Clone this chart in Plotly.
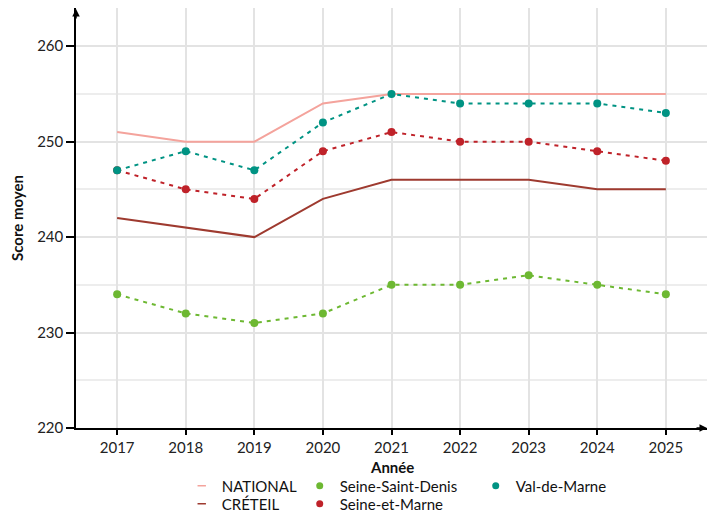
import plotly.graph_objects as go

annees = [2017, 2018, 2019, 2020, 2021, 2022, 2023, 2024, 2025]
national = [251, 250, 250, 254, 255, 255, 255, 255, 255]
creteil = [242, 241, 240, 244, 246, 246, 246, 245, 245]
seine_saint_denis = [234, 232, 231, 232, 235, 235, 236, 235, 234]
seine_et_marne = [247, 245, 244, 249, 251, 250, 250, 249, 248]
val_de_marne = [247, 249, 247, 252, 255, 254, 254, 254, 253]

col_nat = "#F4A39C"
col_cre = "#9E3A2F"
col_ssd = "#6DB832"
col_sem = "#BF2229"
col_vdm = "#009383"

FONT = "Lato"

fig = go.Figure()

# lignes académiques (sans marqueurs)
fig.add_trace(go.Scatter(x=annees, y=national, mode="lines", line=dict(color=col_nat, width=2),
                         showlegend=False))
fig.add_trace(go.Scatter(x=annees, y=creteil, mode="lines", line=dict(color=col_cre, width=2),
                         showlegend=False))

# départements, pointillés + points
for vals, col in [(seine_saint_denis, col_ssd), (seine_et_marne, col_sem), (val_de_marne, col_vdm)]:
    fig.add_trace(go.Scatter(x=annees, y=vals, mode="lines+markers",
                             line=dict(color=col, width=2, dash="4px,5px"),
                             marker=dict(color=col, size=8), showlegend=False))

# entrées de légende
def leg_line(nom, col, leg, w):
    fig.add_trace(go.Scatter(x=[None], y=[None], mode="markers", name=nom, legend=leg,
                             legendwidth=w,
                             marker=dict(symbol="line-ew-open", size=6, color=col,
                                         line=dict(color=col, width=1.5))))

def leg_point(nom, col, leg, w):
    fig.add_trace(go.Scatter(x=[None], y=[None], mode="markers", name=nom, legend=leg,
                             legendwidth=w,
                             marker=dict(color=col, size=7)))

leg_line("NATIONAL", col_nat, "legend", 73)
leg_point("Seine-Saint-Denis", col_ssd, "legend", 131)
leg_point("Val-de-Marne", col_vdm, "legend", 110)
leg_line("CRÉTEIL", col_cre, "legend2", 73)
leg_point("Seine-et-Marne", col_sem, "legend2", 120)

leg_style = dict(orientation="h", xanchor="left", yanchor="top", bgcolor="rgba(0,0,0,0)",
                 xref="container", yref="container",
                 font=dict(family=FONT, size=15, color="#111"), itemwidth=30,
                 tracegroupgap=0)

# la page ajoute une marge de 8 px : figure un peu plus petite pour tenir dans 720x518
fig.update_layout(
    width=712, height=510,
    margin=dict(l=68, r=13, t=0, b=90),
    plot_bgcolor="white", paper_bgcolor="white",
    font=dict(family=FONT, size=15, color="#222"),
    legend=dict(x=0.244, y=0.095, **leg_style),
    legend2=dict(x=0.244, y=0.060, **leg_style),
    xaxis=dict(
        range=[2016.4, 2025.6], tickvals=annees,
        ticks="outside", ticklen=5, tickwidth=1.5, tickcolor="black",
        showgrid=True, gridcolor="#E3E3E3", gridwidth=1.5,
        showline=True, linecolor="black", linewidth=1.5,
        zeroline=False, automargin=False,
        tickfont=dict(size=15, color="#222"),
    ),
    yaxis=dict(
        range=[220, 264], tickvals=[220, 230, 240, 250, 260],
        ticks="outside", ticklen=8, tickwidth=1.5, tickcolor="black",
        showgrid=True, gridcolor="#E3E3E3", gridwidth=1.5,
        minor=dict(dtick=5, showgrid=True, gridcolor="#EDEDED", gridwidth=1.5),
        showline=True, linecolor="black", linewidth=1.5,
        zeroline=False, automargin=False,
        title=dict(text="<b>Score moyen</b>", font=dict(size=15, color="#111"), standoff=12),
        tickfont=dict(size=15, color="#222"),
    ),
)

# titre de l'axe x
fig.add_annotation(x=0.5, y=-0.093, xref="paper", yref="paper", text="<b>Année</b>",
                   showarrow=False, yanchor="middle", font=dict(size=15, color="#111"))

# flèches au bout des axes
fig.add_annotation(x=0, y=1, xref="paper", yref="paper", text="", showarrow=True,
                   ax=0, ay=12, arrowhead=2, arrowsize=1, arrowwidth=1.5, arrowcolor="black")
fig.add_annotation(x=1, y=0, xref="paper", yref="paper", text="", showarrow=True,
                   ax=-12, ay=0, arrowhead=2, arrowsize=1, arrowwidth=1.5, arrowcolor="black")

fig.write_html("out.html")
